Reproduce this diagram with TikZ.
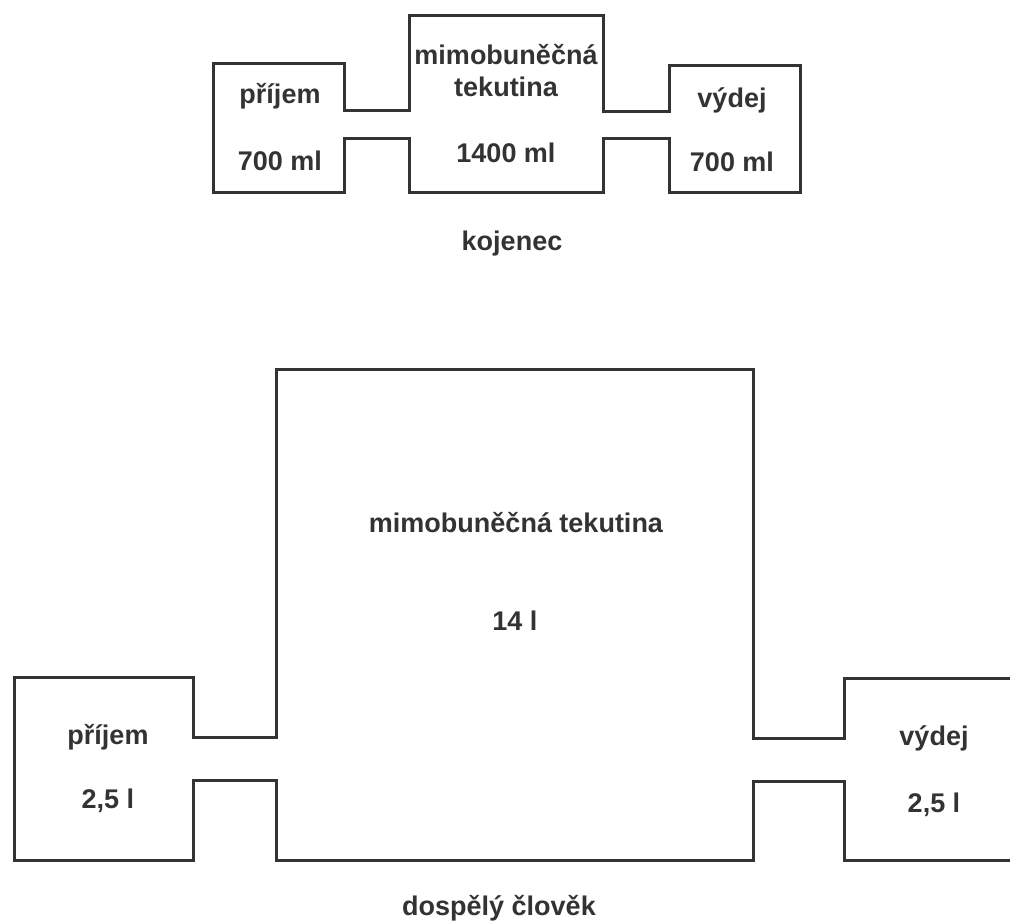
\documentclass[tikz,border=0pt]{standalone}
\usepackage{fontspec}
\setmainfont{Liberation Sans}
\definecolor{ink}{HTML}{333333}
\begin{document}
\begin{tikzpicture}[x=1pt,y=-1pt,
  outline/.style={draw=ink, line width=3pt, line join=miter},
  lbl/.style={font=\fontsize{27}{31}\selectfont\bfseries, text=ink, anchor=base, inner sep=0pt}]
\useasboundingbox (0,0) rectangle (1010,922);
\clip (0,0) rectangle (1010,922);

% infant: intake -- extracellular fluid -- output, one outline
\draw[outline] (213,63) -- (344,63) -- (344,110) -- (409,110) -- (409,15)
  -- (603,15) -- (603,111) -- (669,111) -- (669,65) -- (800,65) -- (800,192)
  -- (669,192) -- (669,138) -- (603,138) -- (603,192) -- (409,192)
  -- (409,138) -- (344,138) -- (344,192) -- (213,192) -- cycle;

\node[lbl] (inA)  at (280,103) {příjem};
\node[lbl] (inAv) at (280,170) {700 ml};
\node[lbl] (ecA1) at (506,64)  {mimobuněčná};
\node[lbl] (ecA2) at (506,96)  {tekutina};
\node[lbl] (ecAv) at (506,162) {1400 ml};
\node[lbl] (outA) at (732,107) {výdej};
\node[lbl] (outAv) at (732,171) {700 ml};
\node[lbl] (capA) at (512,250) {kojenec};

% adult: the output box runs past the right edge
\draw[outline] (1015,678) -- (844,678) -- (844,738) -- (753,738) -- (753,369)
  -- (276,369) -- (276,737) -- (193,737) -- (193,677) -- (14,677) -- (14,860)
  -- (193,860) -- (193,780) -- (276,780) -- (276,860) -- (753,860)
  -- (753,781) -- (844,781) -- (844,860) -- (1015,860);

\node[lbl] (inB)  at (108,744) {příjem};
\node[lbl] (inBv) at (108,808) {2,5 l};
\node[lbl] (ecB)  at (516,532) {mimobuněčná tekutina};
\node[lbl] (ecBv) at (515,630) {14 l};
\node[lbl] (outB) at (934,745) {výdej};
\node[lbl] (outBv) at (934,812) {2,5 l};
\node[lbl] (capB) at (499,915) {dospělý člověk};
\end{tikzpicture}
\end{document}
